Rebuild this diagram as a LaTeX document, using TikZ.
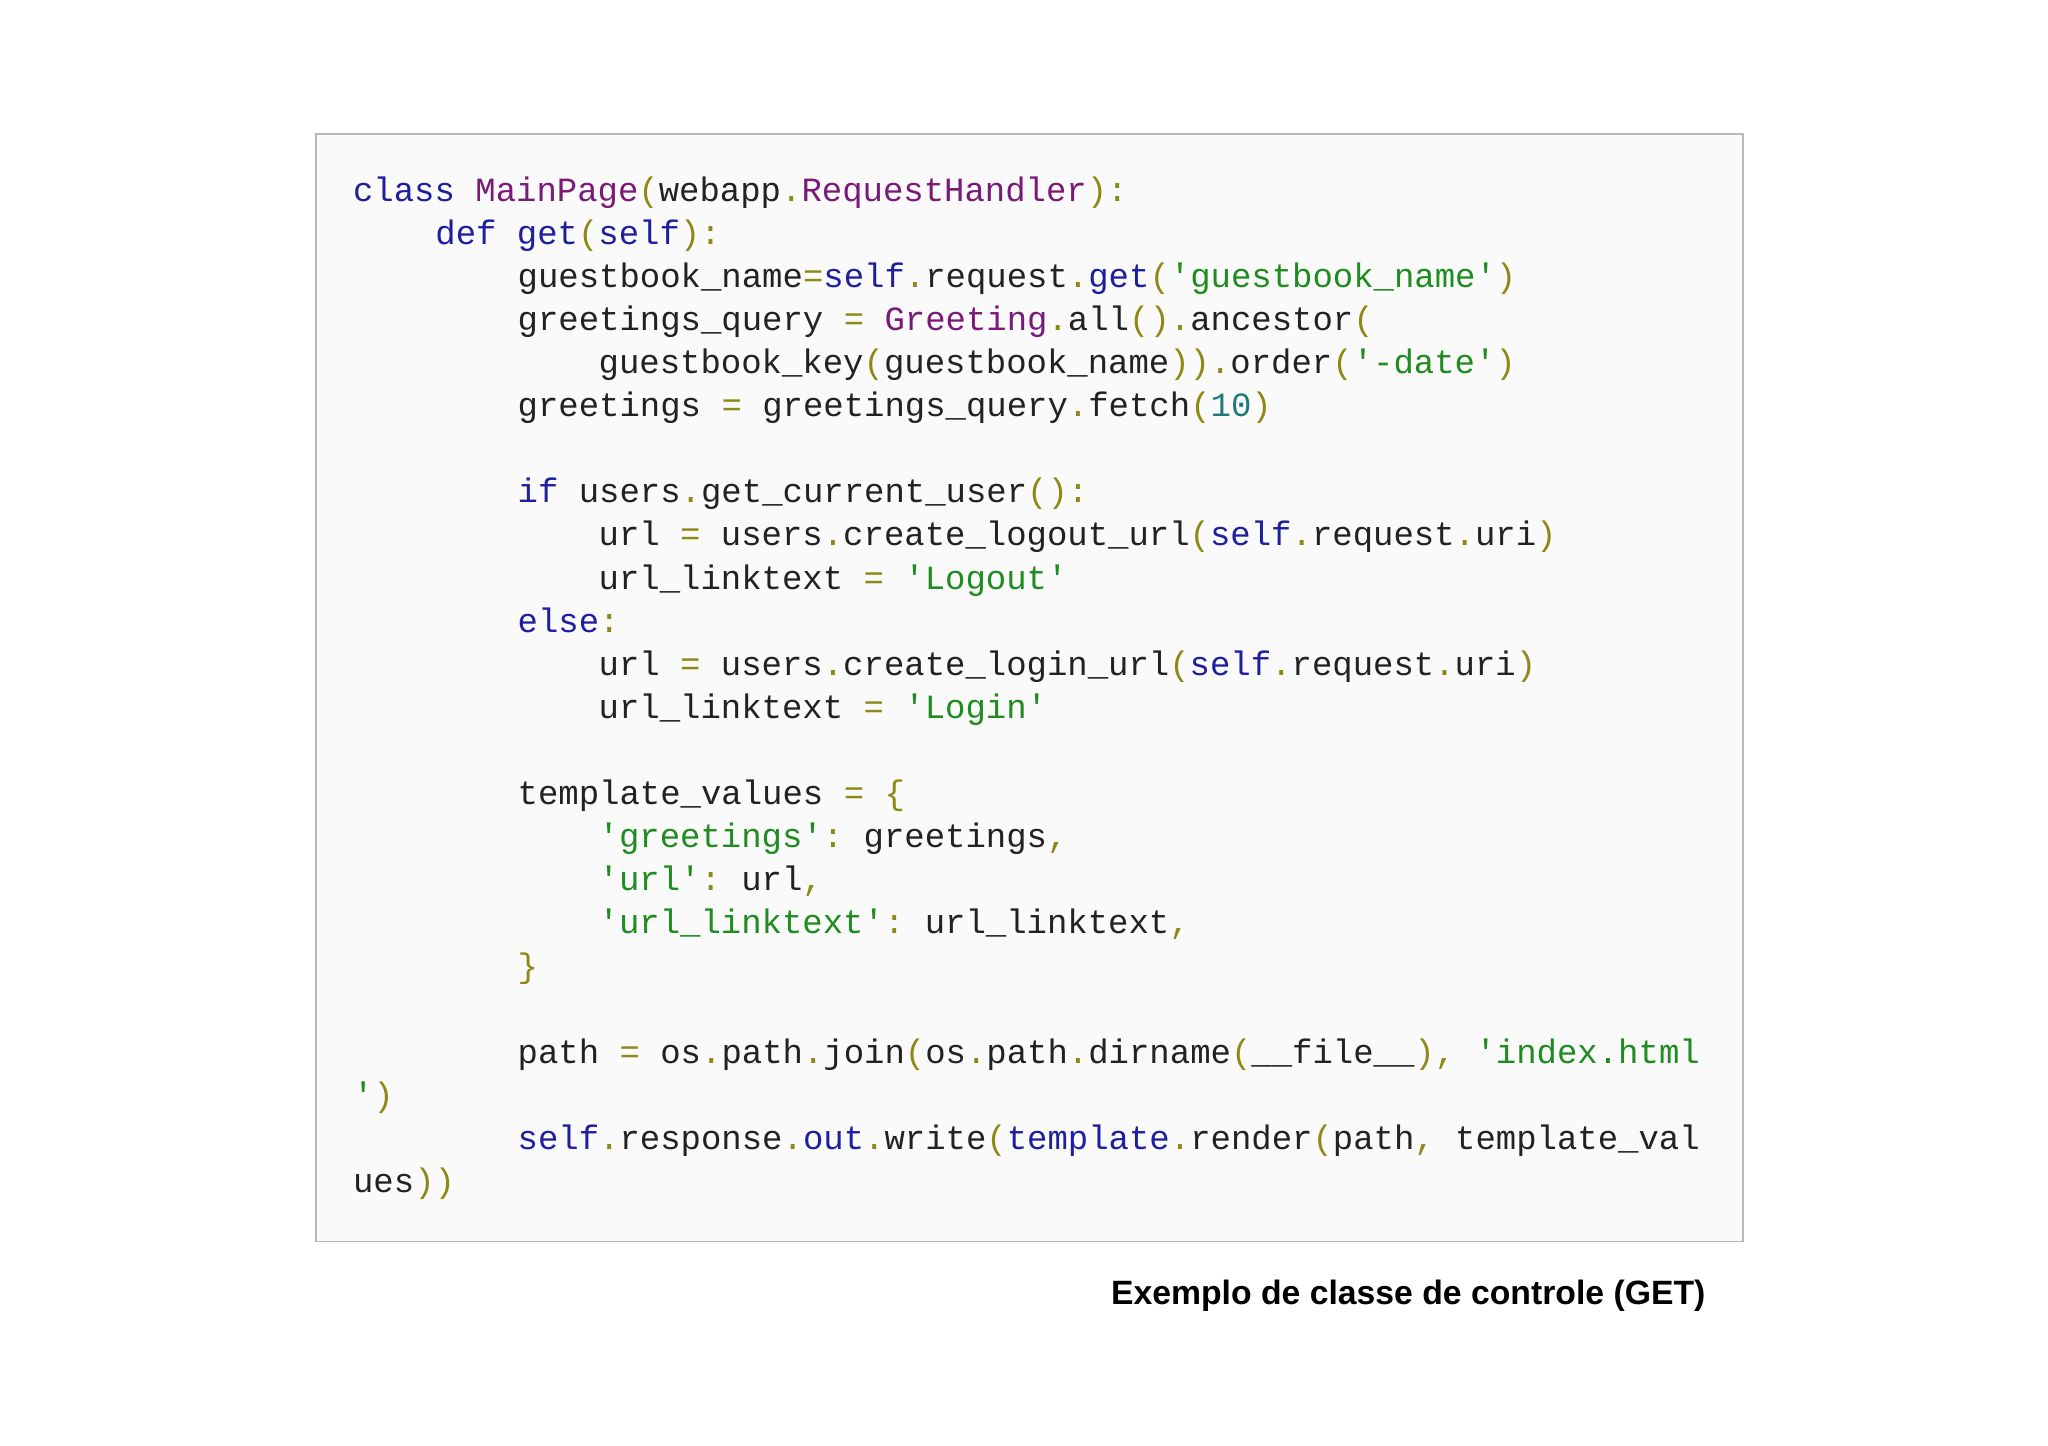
\documentclass[tikz,border=0pt]{standalone}
\usepackage{fontspec}
\setmainfont{Liberation Sans}
\setmonofont{Liberation Mono}
\definecolor{kwc}{HTML}{1E1EA0}
\definecolor{clc}{HTML}{7A1A78}
\definecolor{stc}{HTML}{1E8C1E}
\definecolor{puc}{HTML}{8C8A14}
\definecolor{nmc}{HTML}{1E7A7A}
\definecolor{txc}{HTML}{222222}
\newcommand\kw[1]{\textcolor{kwc}{#1}}
\newcommand\cl[1]{\textcolor{clc}{#1}}
\newcommand\st[1]{\textcolor{stc}{#1}}
\newcommand\pu[1]{\textcolor{puc}{#1}}
\newcommand\nm[1]{\textcolor{nmc}{#1}}
\begin{document}
\begin{tikzpicture}[x=0.02cm,y=-0.02cm,
  code/.style={anchor=base west,inner sep=0,font=\ttfamily\fontsize{14.8}{16}\selectfont,text=txc}]
\useasboundingbox (0,0) rectangle (1568,1107);
\node[draw=black!28,line width=0.8pt,fill=black!2,minimum width=21.86cm,minimum height=16.96cm,anchor=north west,inner sep=0] (box) at (241,102) {};
\begin{scope}[yshift=-0.04cm]
\node[code] (l1) at (270,152) {\kw{class} \cl{MainPage}\pu{(}webapp\pu{.}\cl{RequestHandler}\pu{):}};
\node[code] (l2) at (333,185) {\kw{def} \kw{get}\pu{(}\kw{self}\pu{):}};
\node[code] (l3) at (396,218) {guestbook\_name\pu{=}\kw{self}\pu{.}request\pu{.}\kw{get}\pu{(}\st{'guestbook\_name'}\pu{)}};
\node[code] (l4) at (396,251) {greetings\_query \pu{=} \cl{Greeting}\pu{.}all\pu{().}ancestor\pu{(}};
\node[code] (l5) at (458,284) {guestbook\_key\pu{(}guestbook\_name\pu{)).}order\pu{(}\st{'-date'}\pu{)}};
\node[code] (l6) at (396,317) {greetings \pu{=} greetings\_query\pu{.}fetch\pu{(}\nm{10}\pu{)}};
\node[code] (l8) at (396,383) {\kw{if} users\pu{.}get\_current\_user\pu{():}};
\node[code] (l9) at (458,416) {url \pu{=} users\pu{.}create\_logout\_url\pu{(}\kw{self}\pu{.}request\pu{.}uri\pu{)}};
\node[code] (l10) at (458,449) {url\_linktext \pu{=} \st{'Logout'}};
\node[code] (l11) at (396,482) {\kw{else}\pu{:}};
\node[code] (l12) at (458,515) {url \pu{=} users\pu{.}create\_login\_url\pu{(}\kw{self}\pu{.}request\pu{.}uri\pu{)}};
\node[code] (l13) at (458,548) {url\_linktext \pu{=} \st{'Login'}};
\node[code] (l15) at (396,614) {template\_values \pu{=} \pu{\{}};
\node[code] (l16) at (458,647) {\st{'greetings'}\pu{:} greetings\pu{,}};
\node[code] (l17) at (458,680) {\st{'url'}\pu{:} url\pu{,}};
\node[code] (l18) at (458,713) {\st{'url\_linktext'}\pu{:} url\_linktext\pu{,}};
\node[code] (l19) at (396,746) {\pu{\}}};
\node[code] (l21) at (396,812) {path \pu{=} os\pu{.}path\pu{.}join\pu{(}os\pu{.}path\pu{.}dirname\pu{(}\_\_file\_\_\pu{),} \st{'index.html}};
\node[code] (l22) at (270,845) {\st{'}\pu{)}};
\node[code] (l23) at (396,878) {\kw{self}\pu{.}response\pu{.}\kw{out}\pu{.}write\pu{(}\kw{template}\pu{.}render\pu{(}path\pu{,} template\_val};
\node[code] (l24) at (270,911) {ues\pu{))}};
\end{scope}
\node[anchor=base east,inner sep=0,font=\bfseries\fontsize{14.7}{17}\selectfont] (cap) at (1306,999) {Exemplo de classe de controle (GET)};
\end{tikzpicture}
\end{document}
